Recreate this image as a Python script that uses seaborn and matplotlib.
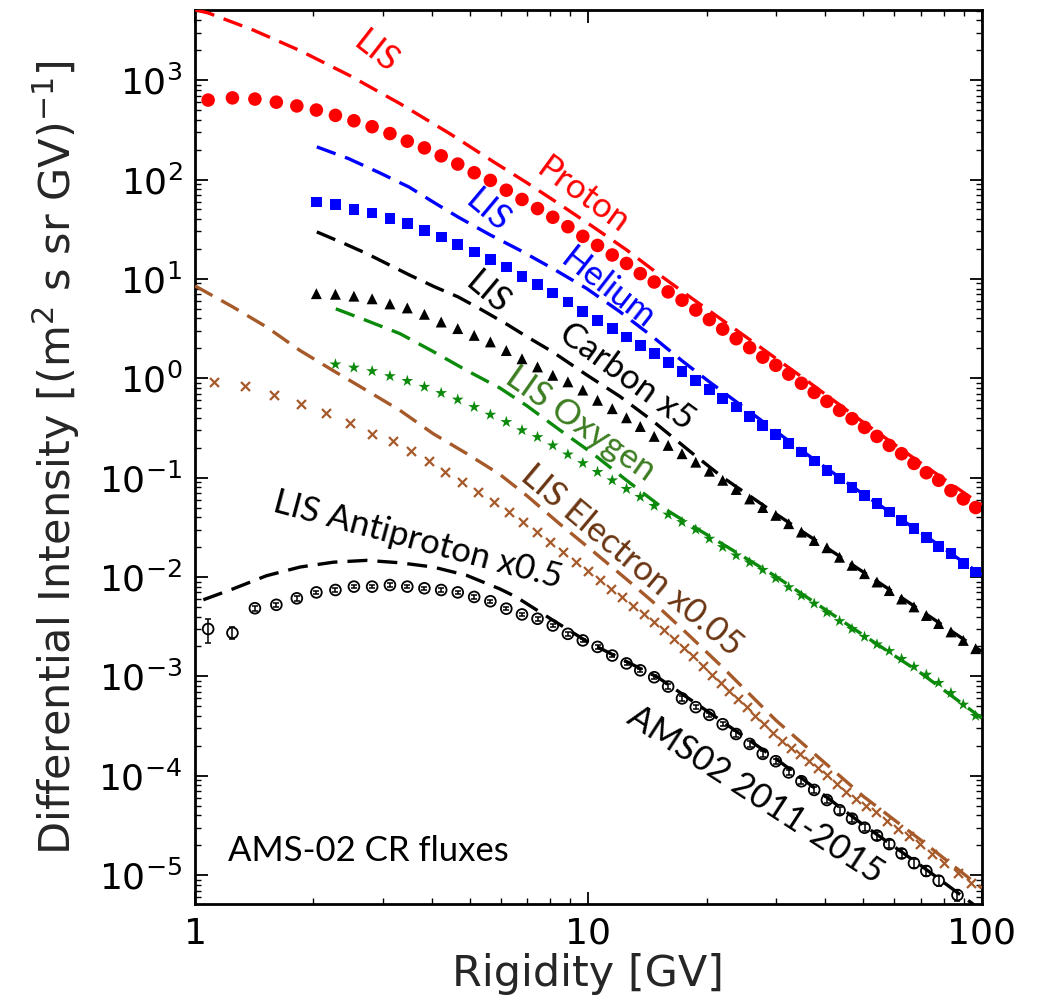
import matplotlib
matplotlib.use("Agg")
import matplotlib.pyplot as plt
import numpy as np
import seaborn as sns
from matplotlib.ticker import FixedLocator, LogLocator, NullFormatter, LogFormatterMathtext

sns.set_style("ticks")
plt.rcParams["font.family"] = ["DejaVu Sans"]
plt.rcParams["mathtext.fontset"] = "dejavusans"

# ---------------------------------------------------------------------------
# AMS-02 measured fluxes (2011-2015), rigidity bin centres in GV
# ---------------------------------------------------------------------------
rig_nuclei = [1.08, 1.245, 1.42, 1.61, 1.815, 2.035, 2.275, 2.535, 2.82, 3.13,
              3.465, 3.83, 4.225, 4.655, 5.125, 5.635, 6.185, 6.78, 7.425, 8.12,
              8.87, 9.68, 10.55, 11.5, 12.5, 13.55, 14.7, 15.95, 17.3, 18.75,
              20.3, 21.95, 23.75, 25.7, 27.75, 29.95, 32.3, 34.8, 37.5, 40.4,
              43.5, 46.8, 50.35, 54.15, 58.2, 62.55, 67.25, 72.3, 77.7, 83.5,
              89.75, 96.5]

flux_proton = [630, 663, 645, 600, 550, 500, 442, 390, 340, 290,
               243, 208, 173, 143, 117, 98, 78, 63, 51, 41.7,
               33.5, 26.8, 21.7, 17.4, 14.3, 11.3, 9.3, 7.4, 6.1, 4.86,
               3.89, 3.12, 2.5, 2.03, 1.63, 1.35, 1.1, 0.89, 0.72, 0.585,
               0.475, 0.392, 0.32, 0.26, 0.211, 0.174, 0.139, 0.112, 0.094, 0.074,
               0.061, 0.050]

rig_helium = rig_nuclei[5:]
flux_helium = [59.5, 56, 50, 46, 40.8, 36, 30.9, 26.4, 22.3, 18.6,
               15.7, 13.2, 10.6, 8.8, 7.2, 5.85, 4.7, 3.83, 3.16, 2.6,
               2.14, 1.77, 1.43, 1.17, 0.95, 0.77, 0.63, 0.514, 0.41, 0.336,
               0.272, 0.219, 0.181, 0.147, 0.118, 0.0975, 0.079, 0.066, 0.0545, 0.045,
               0.037, 0.0306, 0.0248, 0.0203, 0.0171, 0.0136, 0.0112]

rig_carbon = rig_nuclei[5:]
flux_carbon_x5 = [7.1, 7.0, 6.7, 6.3, 5.6, 5.1, 4.4, 3.68, 3.16, 2.7,
                  2.32, 1.9, 1.57, 1.3, 1.07, 0.92, 0.76, 0.6, 0.494, 0.40,
                  0.327, 0.26, 0.211, 0.174, 0.143, 0.116, 0.094, 0.076, 0.061, 0.050,
                  0.0417, 0.0344, 0.0283, 0.0233, 0.0197, 0.0158, 0.0131, 0.0108, 0.0089, 0.0073,
                  0.0060, 0.0050, 0.0041, 0.0034, 0.0028, 0.0023, 0.0019]

rig_oxygen = rig_nuclei[6:]
flux_oxygen = [1.38, 1.28, 1.18, 1.05, 0.94, 0.82, 0.71, 0.61, 0.514, 0.43,
               0.363, 0.30, 0.256, 0.211, 0.171, 0.14, 0.114, 0.094, 0.077, 0.064,
               0.052, 0.0425, 0.0357, 0.030, 0.0243, 0.020, 0.0165, 0.014, 0.0118, 0.0097,
               0.0079, 0.0065, 0.0054, 0.0044, 0.0036, 0.0030, 0.0025, 0.0021, 0.0018, 0.0015,
               0.00125, 0.00104, 0.00086, 0.00068, 0.00052, 0.00040]

rig_electron = [1.115, 1.34, 1.59, 1.86, 2.155, 2.48, 2.825, 3.18, 3.545, 3.925,
                4.33, 4.77, 5.245, 5.745, 6.27, 6.82, 7.395, 7.995, 8.625, 9.285,
                9.97, 10.68, 11.42, 12.195, 13.0, 13.83, 14.695, 15.595, 16.525, 17.49,
                18.485, 19.515, 20.585, 21.69, 22.835, 24.02, 25.26, 26.575, 27.965, 29.445,
                31.015, 32.675, 34.445, 36.335, 38.35, 40.5, 42.805, 45.3, 47.985, 50.85,
                53.955, 57.355, 61.075, 65.16, 69.675, 74.71, 80.365, 86.775, 94.135]
flux_electron_x005 = [0.916, 0.829, 0.684, 0.555, 0.447, 0.354, 0.277, 0.232, 0.184, 0.146,
                      0.115, 0.090, 0.0714, 0.0575, 0.045, 0.0357, 0.0283, 0.0224, 0.0178, 0.0141,
                      0.0116, 0.0093, 0.0076, 0.0063, 0.0051, 0.0042, 0.0035, 0.0029, 0.0024, 0.00195,
                      0.0016, 0.00128, 0.00104, 0.00086, 0.00071, 0.00059, 0.00049, 0.00040, 0.00033, 0.00027,
                      0.000225, 0.000192, 0.000166, 0.000140, 0.000120, 0.000101, 0.000083, 0.000069, 0.000058, 0.000050,
                      0.000043, 0.000035, 0.000029, 0.000025, 0.0000205, 0.0000165, 0.0000133, 0.0000105, 0.0000083]

rig_pbar = [1.08, 1.245, 1.42, 1.61, 1.815, 2.035, 2.275, 2.535, 2.82, 3.13,
            3.465, 3.83, 4.225, 4.655, 5.125, 5.635, 6.185, 6.78, 7.425, 8.12,
            8.87, 9.68, 10.55, 11.5, 12.5, 13.55, 14.7, 15.95, 17.3, 18.75,
            20.3, 21.95, 23.75, 25.7, 27.75, 29.95, 32.3, 34.8, 37.5, 40.4,
            43.5, 46.8, 50.35, 54.15, 58.2, 62.55, 67.25, 72.3, 77.7, 86.75]
flux_pbar_x05 = [0.0030, 0.00274, 0.00485, 0.00525, 0.0061, 0.0070, 0.0074, 0.0080, 0.0080, 0.0083,
                 0.0080, 0.0077, 0.0074, 0.0070, 0.0063, 0.0057, 0.0048, 0.0042, 0.0038, 0.00325,
                 0.00268, 0.0023, 0.00198, 0.00162, 0.00135, 0.00115, 0.00098, 0.00079, 0.00060, 0.00049,
                 0.00041, 0.00033, 0.000263, 0.000209, 0.000166, 0.000140, 0.000108, 0.000088, 0.000072, 0.000057,
                 0.000045, 0.000037, 0.000030, 0.000025, 0.0000205, 0.0000165, 0.0000132, 0.0000110, 0.0000088, 0.0000063]
relerr_pbar = [0.27, 0.14, 0.06, 0.05, 0.05, 0.04, 0.04, 0.04, 0.04, 0.04,
               0.04, 0.04, 0.04, 0.04, 0.04, 0.04, 0.04, 0.04, 0.04, 0.04,
               0.04, 0.04, 0.04, 0.04, 0.04, 0.04, 0.05, 0.05, 0.05, 0.05,
               0.05, 0.05, 0.06, 0.06, 0.06, 0.06, 0.06, 0.07, 0.07, 0.07,
               0.08, 0.08, 0.08, 0.09, 0.09, 0.10, 0.10, 0.11, 0.12, 0.12]

# ---------------------------------------------------------------------------
# Local interstellar spectra (model curves)
# ---------------------------------------------------------------------------
lis_rig_proton = [1.0, 1.079, 1.404, 1.85, 2.475, 3.32, 4.44, 5.72, 6.97, 8.47,
                  10.27, 12.5, 15.2, 18.4, 25, 35, 50, 70, 100]
lis_proton = [5100, 4750, 3200, 1980, 1110, 580, 290, 152, 93, 56,
              33.5, 19.6, 10.9, 6.3, 2.65, 1.02, 0.36, 0.14, 0.053]

lis_rig_helium = [2.04, 2.45, 2.93, 3.5, 4.1, 4.66, 5.6, 6.7, 8.15, 9.9,
                  12.0, 14.6, 17.3, 20.3, 25, 35, 50, 70, 100]
lis_helium = [213, 163, 118, 84, 57, 42, 28, 19.4, 12.6, 8.0,
              4.7, 2.6, 1.5, 0.92, 0.5, 0.185, 0.068, 0.028, 0.0105]

lis_rig_carbon = [2.04, 2.40, 2.73, 3.5, 4.07, 4.66, 5.3, 6.2, 7.0, 8.1,
                  9.9, 12.0, 14.6, 18.4, 22, 30, 50, 70, 100]
lis_carbon_x5 = [29.7, 22.6, 18, 11.0, 8.3, 6.6, 5.0, 3.5, 2.6, 1.85,
                 1.08, 0.66, 0.37, 0.175, 0.1, 0.043, 0.0112, 0.0046, 0.00178]

lis_rig_oxygen = [2.28, 2.72, 3.32, 3.99, 4.9, 5.95, 6.97, 8.47, 10.27, 12.5,
                  15.2, 18.4, 21.3, 30, 50, 70, 100]
lis_oxygen = [5.0, 3.83, 2.81, 1.9, 1.2, 0.8, 0.53, 0.30, 0.174, 0.094,
              0.052, 0.0325, 0.023, 0.0101, 0.0026, 0.00108, 0.00038]

lis_rig_electron = [1.0, 1.25, 1.52, 1.85, 2.24, 2.73, 3.32, 4.03, 4.9, 5.95,
                    6.97, 8.47, 10.3, 12.5, 14.6, 18, 22, 30, 50, 70, 100]
lis_electron_x005 = [8.5, 5.2, 3.28, 1.9, 1.2, 0.755, 0.475, 0.277, 0.175, 0.108,
                     0.066, 0.034, 0.018, 0.0095, 0.0056, 0.0026, 0.00122, 0.00036, 0.000062, 0.0000225, 0.0000074]

lis_rig_pbar = [1.05, 1.25, 1.52, 1.85, 2.25, 2.73, 3.32, 4.03, 4.9, 5.95,
                6.55, 8.1, 10, 15, 20, 30, 50, 70, 100]
lis_pbar_x05 = [0.0059, 0.0076, 0.0103, 0.0126, 0.0141, 0.0147, 0.0139, 0.0126, 0.0104, 0.0076,
                0.0063, 0.0037, 0.0022, 0.00098, 0.00045, 0.000148, 0.000032, 0.0000125, 0.0000044]

RED = "#ff0000"
BLUE = "#0000ff"
GREEN = "#0b8a0b"
BROWN = "#a65a2a"
BROWN_TXT = "#6a3512"
GREEN_TXT = "#3d7d22"

fig = plt.figure(figsize=(10.4, 10.08), dpi=100)
ax = fig.add_axes([0.1875, 0.103, 0.7565, 0.887])
ax.set_xscale("log")
ax.set_yscale("log")


def measured(x, y, **kw):
    sns.scatterplot(x=x, y=y, ax=ax, legend=False, zorder=2, **kw)


def lis(x, y, color, lw=2.4):
    sns.lineplot(x=x, y=y, ax=ax, color=color, linewidth=lw,
                 linestyle=(0, (6.0, 3.0)), estimator=None, sort=False,
                 errorbar=None, legend=False, zorder=3)


measured(rig_nuclei, flux_proton, marker="o", s=95, color=RED, edgecolor="none")
measured(rig_helium, flux_helium, marker="s", s=60, color=BLUE, edgecolor="none")
measured(rig_carbon, flux_carbon_x5, marker="^", s=62, color="black", edgecolor="none")
measured(rig_oxygen, flux_oxygen, marker="*", s=80, color=GREEN, edgecolor="none")
measured(rig_electron, flux_electron_x005, marker="x", s=42, color=BROWN, linewidth=1.6)

yerr_pbar = [v * e for v, e in zip(flux_pbar_x05, relerr_pbar)]
ax.errorbar(rig_pbar, flux_pbar_x05, yerr=yerr_pbar, fmt="none", ecolor="black",
            elinewidth=1.1, capsize=2.5, capthick=1.1, zorder=2)
measured(rig_pbar, flux_pbar_x05, marker="o", s=60, facecolor="none",
         edgecolor="black", linewidth=1.3)

lis(lis_rig_proton, lis_proton, RED)
lis(lis_rig_helium, lis_helium, BLUE)
lis(lis_rig_carbon, lis_carbon_x5, "black")
lis(lis_rig_oxygen, lis_oxygen, GREEN)
lis(lis_rig_electron, lis_electron_x005, BROWN)
lis(lis_rig_pbar, lis_pbar_x05, "black")

# axes, ticks
ax.set_xlim(1, 100)
ax.set_ylim(5.1e-6, 5070)
ax.xaxis.set_major_locator(FixedLocator([1, 10, 100]))
ax.set_xticklabels(["1", "10", "100"])
ax.xaxis.set_minor_locator(LogLocator(base=10, subs=np.arange(2, 10), numticks=20))
ax.xaxis.set_minor_formatter(NullFormatter())
ax.yaxis.set_major_locator(LogLocator(base=10, numticks=20))
ax.yaxis.set_major_formatter(LogFormatterMathtext())
ax.yaxis.set_minor_locator(LogLocator(base=10, subs=np.arange(2, 10), numticks=40))
ax.yaxis.set_minor_formatter(NullFormatter())
ax.tick_params(which="both", direction="in", top=True, right=True, colors="black")
ax.tick_params(which="major", length=9, width=1.3, labelsize=26, pad=9)
ax.tick_params(which="minor", length=4.5, width=1.0)
for sp in ax.spines.values():
    sp.set_linewidth(2.0)
    sp.set_color("black")

ax.set_xlabel("Rigidity [GV]", fontsize=31, labelpad=2)
ax.set_ylabel("Differential Intensity [(m$^2$ s sr GV)$^{-1}$]", fontsize=31, labelpad=12)

# curve annotations
labels = [
    ("LIS", 0.231, 0.953, -38, RED),
    ("Proton", 0.494, 0.792, -36, RED),
    ("LIS", 0.372, 0.775, -40, BLUE),
    ("Helium", 0.525, 0.688, -38, BLUE),
    ("LIS", 0.372, 0.683, -40, "black"),
    ("Carbon x5", 0.549, 0.590, -36, "black"),
    ("LIS Oxygen", 0.490, 0.537, -35, GREEN_TXT),
    ("LIS Electron x0.05", 0.555, 0.384, -40, BROWN_TXT),
    ("LIS Antiproton x0.5", 0.283, 0.407, -15, "black"),
    ("AMS02 2011-2015", 0.712, 0.122, -33, "black"),
]
for text, fx, fy, rot, col in labels:
    ax.text(fx, fy, text, transform=ax.transAxes, rotation=rot, rotation_mode="anchor",
            ha="center", va="center", fontsize=25, color=col, family=["Lato", "DejaVu Sans"])

ax.text(0.042, 0.059, "AMS-02 CR fluxes", transform=ax.transAxes, ha="left", va="center",
        fontsize=25, color="black", family=["Lato", "DejaVu Sans"])

fig.savefig("out.png", dpi=100)
